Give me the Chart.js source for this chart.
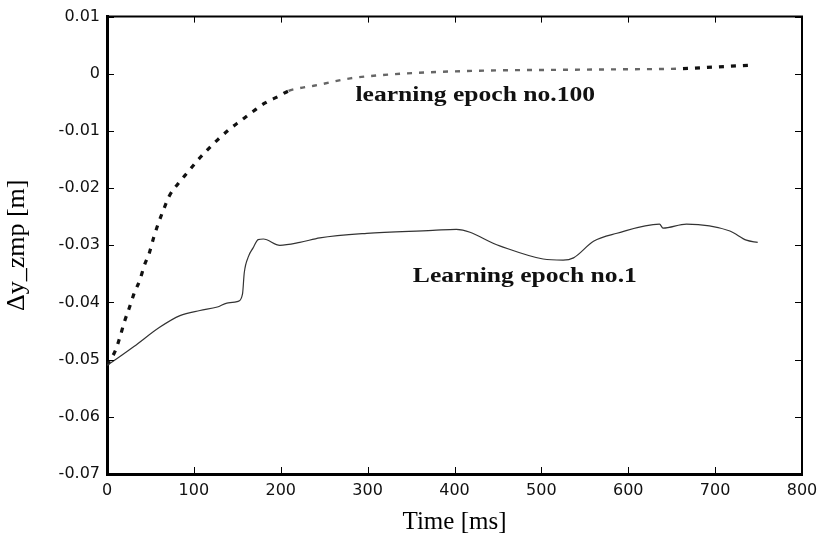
<!DOCTYPE html>
<html>
<head>
<meta charset="utf-8">
<script src="https://cdn.jsdelivr.net/npm/chart.js@4/dist/chart.umd.min.js"></script>
<style>
  html, body { margin: 0; padding: 0; background: #fff; }
  #wrap { width: 840px; height: 539px; }
</style>
</head>
<body>
<div id="wrap"><canvas id="c" width="840" height="539"></canvas></div>
<script>
// ---- data ----
const epoch1X = [0, 4, 31, 61, 84, 107, 127, 138, 151, 156, 158, 163, 168, 174, 180, 199, 222, 245, 299, 375, 402, 452, 502, 525, 537, 560, 587, 636, 640, 667, 717, 736, 749];
const epoch1Y = [-0.0510, -0.0506, -0.0477, -0.0443, -0.0423, -0.0414, -0.0408, -0.0401, -0.0398, -0.0385, -0.0348, -0.0319, -0.0305, -0.0290, -0.0289, -0.0300, -0.0295, -0.0287, -0.0279, -0.0274, -0.0272, -0.0301, -0.0324, -0.0326, -0.0322, -0.0293, -0.0279, -0.0263, -0.0270, -0.0263, -0.0275, -0.0291, -0.0295];

const epoch100X = [0, 10, 15, 20, 26, 31, 38, 43, 49, 54, 59, 65, 72, 82, 93, 104, 115, 127, 141, 154, 168, 182, 198, 209, 222, 238, 280, 338, 395, 452, 529, 606, 663, 702, 742];
const epoch100Y = [-0.0510, -0.0483, -0.0460, -0.0434, -0.0408, -0.0385, -0.0360, -0.0335, -0.0312, -0.0285, -0.0262, -0.0238, -0.0213, -0.0192, -0.0172, -0.0152, -0.0134, -0.0116, -0.0097, -0.0082, -0.0066, -0.0051, -0.0039, -0.0030, -0.0025, -0.0021, -0.0008, 0.0000, 0.0004, 0.0006, 0.0007, 0.0008, 0.0009, 0.0012, 0.0015];

const xTicks = [0, 100, 200, 300, 400, 500, 600, 700, 800];
const xTickLabels = ['0', '100', '200', '300', '400', '500', '600', '700', '800'];
const yTicks = [-0.07, -0.06, -0.05, -0.04, -0.03, -0.02, -0.01, 0, 0.01];
const yTickLabels = ['-0.07', '-0.06', '-0.05', '-0.04', '-0.03', '-0.02', '-0.01', '0', '0.01'];

const annotationTexts = ['learning epoch no.100', 'Learning epoch no.1'];
const annotationX = [286, 352];
const annotationY = [-0.0047, -0.0364];

const xTitle = 'Time [ms]';
const yTitle = 'Δy_zmp [m]';

// ---- chart ----
const toPoints = (xs, ys) => xs.map((v, i) => ({ x: v, y: ys[i] }));

const framePlugin = {
  id: 'frame',
  afterDatasetsDraw(chart) {
    const { ctx, chartArea: a, scales } = chart;
    const x = scales.x, y = scales.y;
    ctx.save();
    ctx.strokeStyle = '#000';
    ctx.lineWidth = 2;
    ctx.beginPath();
    ctx.moveTo(a.left, a.top); ctx.lineTo(a.right, a.top); ctx.lineTo(a.right, a.bottom);
    ctx.stroke();
    ctx.lineWidth = 1;
    ctx.beginPath();
    xTicks.forEach(v => {
      const px = Math.round(x.getPixelForValue(v)) + 0.5;
      ctx.moveTo(px, a.bottom); ctx.lineTo(px, a.bottom - 7);
      ctx.moveTo(px, a.top); ctx.lineTo(px, a.top + 6);
    });
    yTicks.forEach(v => {
      const py = Math.round(y.getPixelForValue(v)) + 0.5;
      ctx.moveTo(a.left, py); ctx.lineTo(a.left + 7, py);
      ctx.moveTo(a.right, py); ctx.lineTo(a.right - 7, py);
    });
    ctx.stroke();
    ctx.fillStyle = '#111';
    ctx.textBaseline = 'alphabetic';
    ctx.textAlign = 'left';
    ctx.font = 'bold 20px "Liberation Serif"';
    annotationTexts.forEach((t, i) => {
      ctx.save();
      ctx.translate(x.getPixelForValue(annotationX[i]), y.getPixelForValue(annotationY[i]));
      ctx.scale(1.28, 1);
      ctx.fillText(t, 0, 0);
      ctx.restore();
    });
    ctx.restore();
  }
};

const dashStyle = (ctx, a, b, c) => {
  const px = ctx.p0.parsed.x;
  return px < 200 ? a : (px >= 660 ? c : b);
};

new Chart(document.getElementById('c'), {
  type: 'line',
  data: {
    datasets: [
      {
        label: 'Learning epoch no.1',
        data: toPoints(epoch1X, epoch1Y),
        borderColor: '#333',
        borderWidth: 1.2,
        pointRadius: 0,
        cubicInterpolationMode: 'monotone',
        fill: false
      },
      {
        label: 'learning epoch no.100',
        data: toPoints(epoch100X, epoch100Y),
        borderColor: '#111',
        borderWidth: 3,
        borderDash: [5, 7],
        pointRadius: 0,
        cubicInterpolationMode: 'monotone',
        fill: false,
        segment: {
          borderColor: ctx => dashStyle(ctx, '#111', '#666', '#111'),
          borderWidth: ctx => dashStyle(ctx, 3.2, 2.4, 3.2)
        }
      }
    ]
  },
  options: {
    responsive: false,
    animation: false,
    layout: { padding: { top: 11, right: 38, left: 0, bottom: 0 } },
    plugins: { legend: { display: false }, tooltip: { enabled: false } },
    scales: {
      x: {
        type: 'linear',
        min: 0, max: 800,
        afterBuildTicks: s => { s.ticks = xTicks.map(v => ({ value: v })); },
        afterFit: s => { s.height = 65; },
        grid: { display: false, drawTicks: false },
        border: { display: true, width: 3, color: '#000' },
        ticks: {
          callback: (v, i) => xTickLabels[i],
          font: { family: 'DejaVu Sans', size: 16 },
          color: '#111',
          padding: 7,
          maxRotation: 0
        },
        title: {
          display: true,
          text: xTitle,
          font: { family: 'Liberation Serif', size: 25 },
          color: '#000',
          padding: { top: 0, bottom: 2 }
        }
      },
      y: {
        type: 'linear',
        min: -0.07, max: 0.01,
        afterBuildTicks: s => { s.ticks = yTicks.map(v => ({ value: v })); },
        afterFit: s => { s.width = 107; },
        grid: { display: false, drawTicks: false },
        border: { display: true, width: 3, color: '#000' },
        ticks: {
          callback: (v, i) => yTickLabels[i],
          font: { family: 'DejaVu Sans', size: 16 },
          color: '#111',
          padding: 7
        },
        title: {
          display: true,
          text: yTitle,
          font: { family: 'Liberation Serif', size: 26 },
          color: '#000',
          padding: { top: 2, bottom: 0 }
        }
      }
    }
  },
  plugins: [framePlugin]
});
</script>
</body>
</html>
